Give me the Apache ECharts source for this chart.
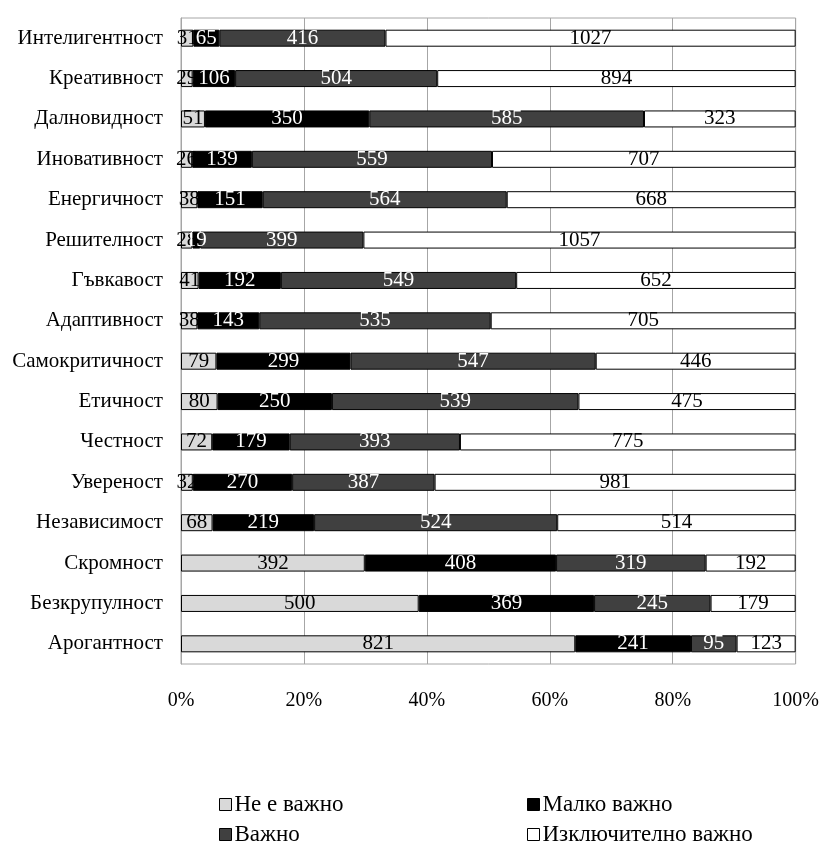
<!DOCTYPE html>
<html><head><meta charset="utf-8">
<script src="https://cdn.jsdelivr.net/npm/echarts@6/dist/echarts.min.js"></script>
<style>html,body{margin:0;padding:0;background:#fff}#c{width:822px;height:850px}</style>
</head><body><div id="c"></div>
<script>
const categories = ['Интелигентност','Креативност','Далновидност','Иновативност','Енергичност','Решителност','Гъвкавост','Адаптивност','Самокритичност','Етичност','Честност','Увереност','Независимост','Скромност','Безкрупулност','Арогантност'];
const seriesNames = ['Не е важно','Малко важно','Важно','Изключително важно'];
const notImportant = [31,29,51,26,38,28,41,38,79,80,72,32,68,392,500,821];
const littleImportant = [65,106,350,139,151,19,192,143,299,250,179,270,219,408,369,241];
const important = [416,504,585,559,564,399,549,535,547,539,393,387,524,319,245,95];
const veryImportant = [1027,894,323,707,668,1057,652,705,446,475,775,981,514,192,179,123];
const xTicks = ['0%','20%','40%','60%','80%','100%'];

const raw = [notImportant, littleImportant, important, veryImportant];
const totals = categories.map((c,i)=>raw.reduce((s,a)=>s+a[i],0));
const colors = ['#d9d9d9','#000000','#404040','#ffffff'];
const labelColors = ['#000','#fff','#fff','#000'];
const font = '"Liberation Serif", "Times New Roman", serif';

const chart = echarts.init(document.getElementById('c'), null, {renderer:'canvas'});
const series = raw.map((arr,k)=>({
  name: seriesNames[k], type:'bar', stack:'total', barWidth:17,
  data: arr.map((v,i)=>({value: v/totals[i]*100, raw: v})),
  itemStyle:{color:colors[k], borderColor:'#000', borderWidth:1},
  label:{show:true, position:'inside', color:labelColors[k], fontFamily:font, fontSize:21,
    formatter: p=>String(p.data.raw)},
  emphasis:{disabled:true}, animation:false
}));
const legendPos = [[214,788],[522,788],[214,818],[522,818]];
chart.setOption({
  animation:false,
  grid:{left:181, right:25, top:18, bottom:186, show:true, borderColor:'#a6a6a6', borderWidth:1, containLabel:false},
  xAxis:{type:'value', min:0, max:100, interval:20,
    axisLabel:{formatter:v=>xTicks[Math.round(v/20)], fontFamily:font, fontSize:20, color:'#000', margin:27},
    axisLine:{show:false}, axisTick:{show:false},
    splitLine:{show:true, lineStyle:{color:'#a6a6a6', width:1}}},
  yAxis:{type:'category', data:categories, inverse:true,
    axisLabel:{fontFamily:font, fontSize:21, color:'#000', margin:18},
    axisLine:{show:true, lineStyle:{color:'#a6a6a6'}}, axisTick:{show:false}},
  legend: seriesNames.map((n,k)=>({data:[{name:n, icon:'rect'}], left:legendPos[k][0], top:legendPos[k][1],
    itemWidth:12, itemHeight:12, itemGap:4, selectedMode:false,
    itemStyle:{borderColor:'#000', borderWidth:1},
    textStyle:{fontFamily:font, fontSize:23, color:'#000', padding:[0,0,0,-2]}})),
  series
});
</script></body></html>
